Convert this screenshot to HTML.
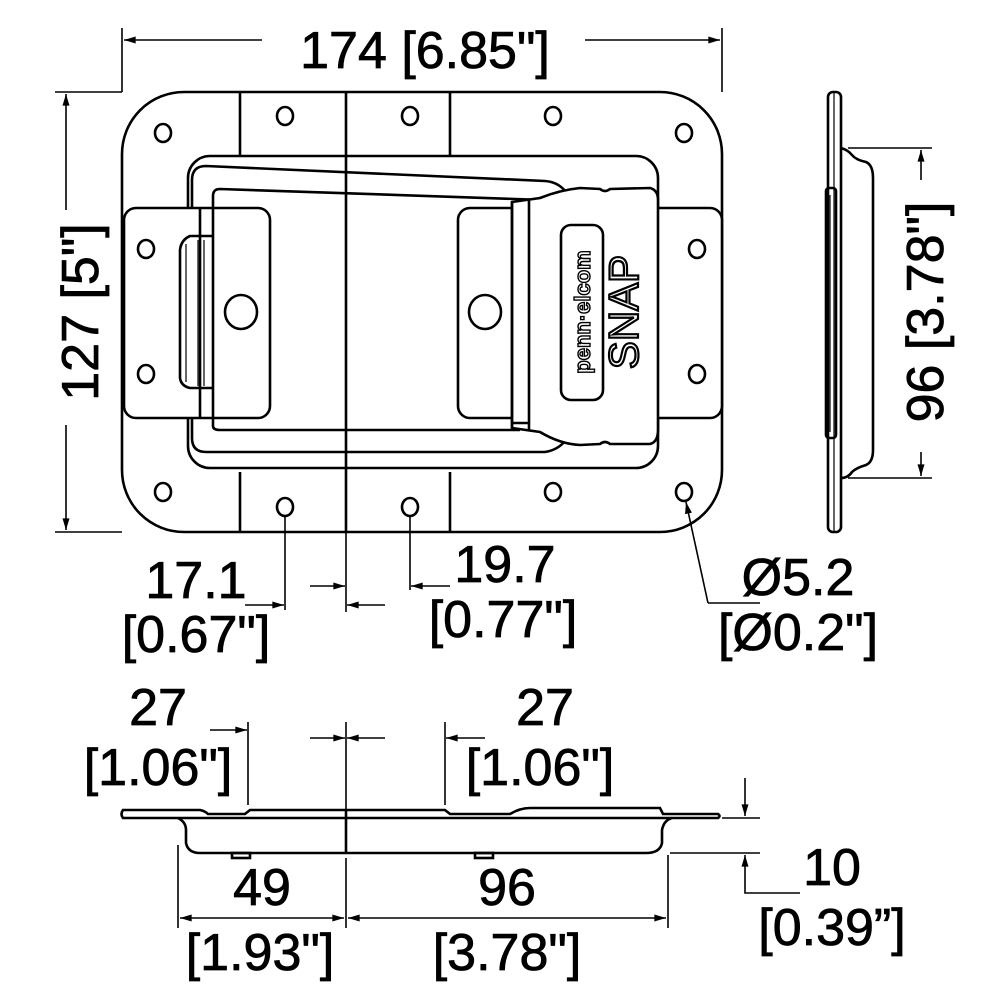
<!DOCTYPE html>
<html><head><meta charset="utf-8"><style>
html,body{margin:0;padding:0;background:#fff}
svg{display:block}
text{font-family:"Liberation Sans",sans-serif;font-size:52px;fill:#000;stroke:#000;stroke-width:0.8;text-anchor:middle}
</style></head><body>
<svg width="1000" height="1000" viewBox="0 0 1000 1000" xmlns="http://www.w3.org/2000/svg">
<defs>
<marker id="a" viewBox="0 0 10 6" refX="10" refY="3" markerWidth="12" markerHeight="7" orient="auto" markerUnits="userSpaceOnUse"><path d="M0,0 L10,3 L0,6z" fill="#000"/></marker>
</defs>
<g fill="none" stroke="#000" stroke-width="2.6">
<rect x="122" y="92" width="600" height="440" rx="62"/>
<line x1="240" y1="92" x2="240" y2="170"/><line x1="450" y1="92" x2="450" y2="170"/>
<line x1="240" y1="472" x2="240" y2="532"/><line x1="450" y1="472" x2="450" y2="532"/>
<line x1="346" y1="92" x2="346" y2="532"/>
<ellipse cx="163" cy="133" rx="8" ry="9"/><ellipse cx="285" cy="116" rx="8" ry="9"/><ellipse cx="410" cy="116" rx="8" ry="9"/><ellipse cx="553" cy="116" rx="8" ry="9"/><ellipse cx="684" cy="133" rx="8" ry="9"/>
<ellipse cx="163" cy="492" rx="8" ry="9"/><ellipse cx="285" cy="507" rx="8" ry="9"/><ellipse cx="410" cy="507" rx="8" ry="9"/><ellipse cx="553" cy="492" rx="8" ry="9"/><ellipse cx="684" cy="492" rx="8" ry="9"/>
<rect x="188" y="156" width="470" height="312" rx="22" fill="#fff"/>
<rect x="124" y="208" width="146" height="210" rx="12" fill="#fff"/>
<rect x="458" y="208" width="264" height="210" rx="12" fill="#fff"/>
<ellipse cx="146" cy="249" rx="8" ry="9"/><ellipse cx="146" cy="374" rx="8" ry="9"/><ellipse cx="697" cy="249" rx="8" ry="9"/><ellipse cx="697" cy="374" rx="8" ry="9"/>
<ellipse cx="241" cy="312" rx="16" ry="17"/><ellipse cx="485" cy="312" rx="16" ry="17"/>
<path d="M192,208 V180 Q192,166 206,166 L545,181 Q560,182 568,195"/>
<path d="M213,208 V196 Q213,189 220,189 L545,200"/>
<path d="M192,418 V438 Q192,452 206,452 L545,452 Q558,450 566,440"/>
<path d="M213,418 V426 Q213,430 220,430 L520,430"/>
<line x1="200" y1="208" x2="200" y2="418"/><line x1="213" y1="208" x2="213" y2="418"/>
<line x1="346" y1="156" x2="346" y2="468"/>
<path d="M213,236 H190 Q181,240 180,250 V378 Q181,386 190,388 H213"/>
<line x1="186" y1="244" x2="186" y2="382" stroke-width="1.2"/><line x1="198" y1="240" x2="198" y2="386" stroke-width="1.2"/><line x1="204" y1="240" x2="204" y2="386" stroke-width="1.2"/>
<path d="M512,202 L540,198 Q560,190 580,188 L600,189 Q605,193 610,189 L650,188 Q658,190 658,200 V430 Q658,442 650,444 L610,444 Q605,440 600,444 L580,445 Q560,444 540,432 L512,428 Z" fill="#fff"/>
<line x1="512" y1="202" x2="512" y2="428"/><line x1="529" y1="200" x2="529" y2="430"/>
<line x1="512" y1="423" x2="529" y2="423"/>
<rect x="561" y="225" width="42" height="175" rx="10"/>
</g>
<text transform="translate(590,312) rotate(-90)" style="font-size:22px;font-weight:bold;fill:#fff;stroke:#000;stroke-width:1.4">penn·elcom</text>
<text transform="translate(638,312) rotate(-90)" style="font-size:42px;fill:#fff;stroke:#000;stroke-width:2.2">SNAP</text>

<g fill="none" stroke="#000" stroke-width="2.6">
<rect x="828" y="92" width="13" height="440" rx="5"/>
<line x1="834" y1="92" x2="834" y2="532" stroke-width="1.2"/>
<path d="M841,148 Q848,150 852,155 Q856,160 866,162 Q873,165 873,178 V450 Q873,462 866,465 Q856,468 852,472 Q848,478 841,478"/>
<rect x="826" y="188" width="10" height="250" rx="3"/>
<line x1="830" y1="195" x2="830" y2="432" stroke-width="1.2"/>
</g>

<g fill="none" stroke="#000" stroke-width="2.6">
<path d="M123,810 L200,810 Q205,811 208,814 L245,814 L250,810 L445,810 L450,814 L510,814 Q520,808 530,808 L660,808 L663,814 L718,814 Q721,816 718,818 L123,818 Q120,814 123,810Z"/>
<path d="M178,818 Q186,822 186,830 V843 Q188,853 200,853 L646,853 Q660,853 662,843 V830 Q664,820 672,818"/>
<line x1="346" y1="810" x2="346" y2="853"/>
<rect x="232" y="853" width="18" height="5"/><rect x="475" y="853" width="18" height="5"/>
</g>

<g fill="none" stroke="#000" stroke-width="1.6">
<line x1="122" y1="28" x2="122" y2="92"/><line x1="722" y1="28" x2="722" y2="92"/>
<line x1="262" y1="40" x2="124" y2="40" marker-end="url(#a)"/><line x1="585" y1="40" x2="720" y2="40" marker-end="url(#a)"/>
<line x1="55" y1="92" x2="122" y2="92"/><line x1="55" y1="532" x2="122" y2="532"/>
<line x1="66" y1="210" x2="66" y2="94" marker-end="url(#a)"/><line x1="66" y1="425" x2="66" y2="530" marker-end="url(#a)"/>
<line x1="848" y1="148" x2="932" y2="148"/><line x1="848" y1="478" x2="932" y2="478"/>
<line x1="921" y1="180" x2="921" y2="150" marker-end="url(#a)"/><line x1="921" y1="452" x2="921" y2="476" marker-end="url(#a)"/>
<line x1="285" y1="515" x2="285" y2="610"/><line x1="346" y1="532" x2="346" y2="612"/>
<line x1="245" y1="605" x2="284" y2="605" marker-end="url(#a)"/><line x1="385" y1="605" x2="347" y2="605" marker-end="url(#a)"/>
<line x1="410" y1="515" x2="410" y2="590"/>
<line x1="310" y1="586" x2="345" y2="586" marker-end="url(#a)"/><line x1="450" y1="586" x2="411" y2="586" marker-end="url(#a)"/>
<path d="M708,603 L686,502" marker-end="url(#a)"/><line x1="708" y1="603" x2="760" y2="603"/>
<line x1="248" y1="722" x2="248" y2="805"/><line x1="346" y1="722" x2="346" y2="810"/><line x1="445" y1="722" x2="445" y2="805"/>
<line x1="210" y1="730" x2="247" y2="730" marker-end="url(#a)"/><line x1="310" y1="738" x2="345" y2="738" marker-end="url(#a)"/>
<line x1="385" y1="738" x2="347" y2="738" marker-end="url(#a)"/><line x1="485" y1="738" x2="446" y2="738" marker-end="url(#a)"/>
<line x1="178" y1="845" x2="178" y2="928"/><line x1="346" y1="858" x2="346" y2="928"/><line x1="668" y1="855" x2="668" y2="928"/>
<line x1="262" y1="918" x2="180" y2="918" marker-end="url(#a)"/><line x1="262" y1="918" x2="344" y2="918" marker-end="url(#a)"/>
<line x1="507" y1="918" x2="348" y2="918" marker-end="url(#a)"/><line x1="507" y1="918" x2="666" y2="918" marker-end="url(#a)"/>
<line x1="722" y1="818" x2="760" y2="818"/><line x1="670" y1="853" x2="760" y2="853"/>
<line x1="745" y1="778" x2="745" y2="816" marker-end="url(#a)"/><path d="M800,893 H745 V855" marker-end="url(#a)"/>
</g>
<text x="425" y="68">174 [6.85"]</text>
<text transform="translate(98,312) rotate(-90)">127 [5"]</text>
<text transform="translate(943,312) rotate(-90)">96 [3.78"]</text>
<text x="196" y="598">17.1</text><text x="196" y="652">[0.67"]</text>
<text x="505" y="582">19.7</text><text x="503" y="637">[0.77"]</text>
<text x="798" y="595">Ø5.2</text><text x="798" y="650">[Ø0.2"]</text>
<text x="158" y="725">27</text><text x="158" y="785">[1.06"]</text>
<text x="545" y="725">27</text><text x="540" y="785">[1.06"]</text>
<text x="262" y="905">49</text><text x="260" y="970">[1.93"]</text>
<text x="507" y="905">96</text><text x="507" y="970">[3.78"]</text>
<text x="832" y="885">10</text><text x="832" y="945">[0.39”]</text>
</svg>
</body></html>
